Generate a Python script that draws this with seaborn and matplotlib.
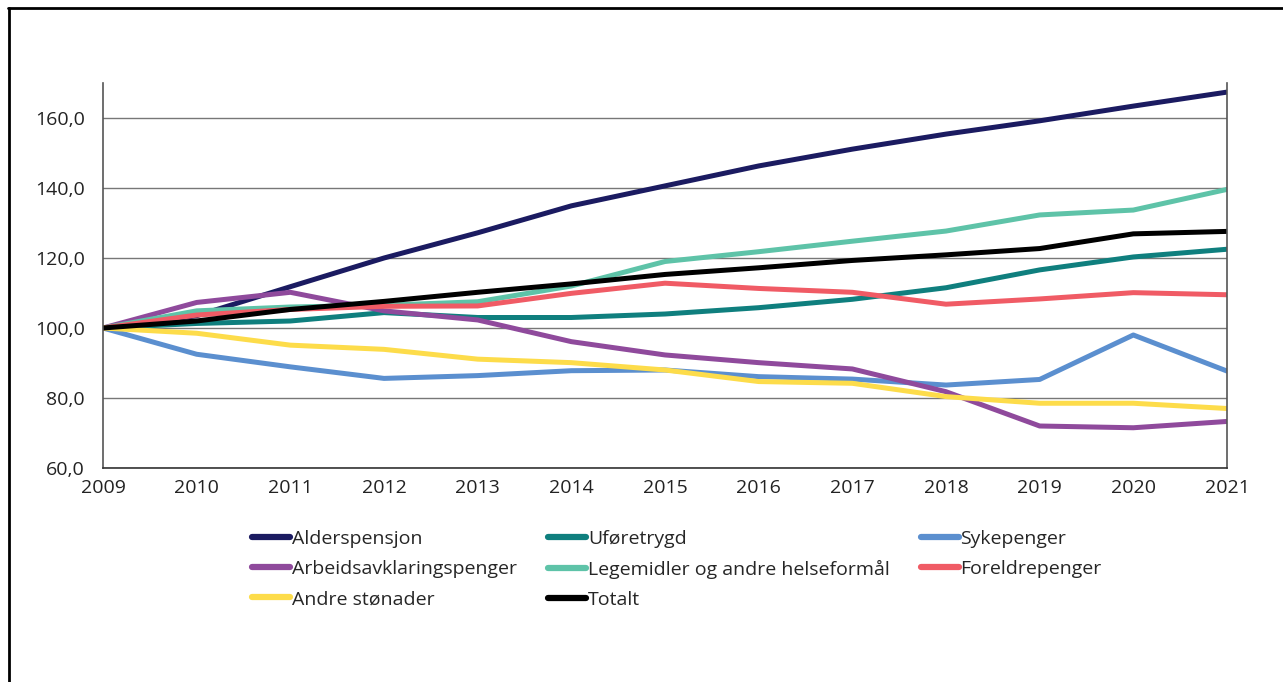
import matplotlib
matplotlib.use("Agg")
import matplotlib.pyplot as plt
from matplotlib.lines import Line2D
from matplotlib.ticker import FuncFormatter
import seaborn as sns
import pandas as pd

years = list(range(2009, 2022))

alderspensjon = [100, 103.5, 111.8, 120.0, 127.2, 134.9, 140.6, 146.3, 151.1, 155.4, 159.2, 163.4, 167.4]
uforetrygd = [100, 101.3, 102.0, 104.4, 103.0, 103.0, 104.0, 105.8, 108.2, 111.5, 116.6, 120.3, 122.5]
sykepenger = [100, 92.5, 88.9, 85.6, 86.4, 87.8, 88.0, 86.1, 85.4, 83.7, 85.3, 98.0, 87.7]
aap = [100, 107.3, 110.2, 104.9, 102.3, 96.1, 92.3, 90.1, 88.3, 81.8, 72.0, 71.5, 73.3]
legemidler = [100, 104.9, 106.0, 106.5, 107.5, 112.0, 119.0, 121.8, 124.8, 127.7, 132.3, 133.7, 139.6]
foreldrepenger = [100, 103.7, 105.3, 106.2, 106.3, 109.9, 112.8, 111.3, 110.2, 106.8, 108.3, 110.1, 109.5]
andre = [100, 98.5, 95.1, 93.9, 91.1, 90.1, 88.0, 84.7, 84.2, 80.4, 78.5, 78.5, 77.0]
totalt = [100, 102.0, 105.3, 107.6, 110.2, 112.6, 115.3, 117.2, 119.3, 120.9, 122.7, 126.9, 127.6]

series = {
    "Alderspensjon": alderspensjon,
    "Uføretrygd": uforetrygd,
    "Sykepenger": sykepenger,
    "Arbeidsavklaringspenger": aap,
    "Legemidler og andre helseformål": legemidler,
    "Foreldrepenger": foreldrepenger,
    "Andre stønader": andre,
    "Totalt": totalt,
}
colors = ["#1B1B61", "#0F7F7E", "#5B8FCF", "#8F4A9C", "#5EC3A8", "#F05B65", "#FDDC4A", "#000000"]

rows = []
for name, vals in series.items():
    for yr, v in zip(years, vals):
        rows.append({"År": yr, "Indeks": v, "Ytelse": name})
df = pd.DataFrame(rows)

sns.set_style("white")
plt.rcParams["font.family"] = ["Open Sans", "DejaVu Sans"]

fig = plt.figure(figsize=(12.83, 6.82), dpi=100)
ax = fig.add_axes([103 / 1283, 1 - 468 / 682, (1227 - 103) / 1283, (468 - 83) / 682])

sns.lineplot(data=df, x="År", y="Indeks", hue="Ytelse", palette=colors,
             linewidth=3.6, ax=ax, sort=False)

ax.set_xlim(2009, 2021)
ax.set_ylim(60, 170)
ax.set_yticks([60, 80, 100, 120, 140, 160])
ax.set_xticks(years)
ax.yaxis.set_major_formatter(FuncFormatter(lambda v, p: f"{v:.1f}".replace(".", ",")))
ax.grid(axis="y", color="#777777", linewidth=1.0)
ax.set_axisbelow(True)
ax.set_xlabel("")
ax.set_ylabel("")
ax.tick_params(axis="both", length=0, labelsize=14, colors="#222222")
ax.tick_params(axis="y", pad=13)
ax.tick_params(axis="x", pad=8)
for side in ["left", "right"]:
    ax.spines[side].set_color("#555555")
    ax.spines[side].set_linewidth(1.2)
ax.spines["bottom"].set_color("#333333")
ax.spines["bottom"].set_linewidth(1.2)
ax.spines["top"].set_visible(False)

handles, labels = ax.get_legend_handles_labels()
ax.get_legend().remove()
for h in handles:
    h.set_linewidth(4.5)
# legenden fylles kolonnevis, så rekkefølgen snus for å få radvis visning
order = [0, 3, 6, 1, 4, 7, 2, 5]
fig.legend([handles[i] for i in order], [labels[i] for i in order], ncol=3, loc="upper left",
           bbox_to_anchor=(252 / 1283, 1 - 530 / 682), frameon=False,
           fontsize=14, handlelength=1.95, handletextpad=0.1,
           columnspacing=1.6, labelspacing=0.62, borderpad=0, borderaxespad=0)

# ramme rundt figuren (topp og venstre)
fig.add_artist(Line2D([8 / 1283, 1], [1 - 8 / 682, 1 - 8 / 682], color="black", linewidth=2))
fig.add_artist(Line2D([9 / 1283, 9 / 1283], [0, 1 - 8 / 682], color="black", linewidth=2))

fig.savefig("out.png", dpi=100)
